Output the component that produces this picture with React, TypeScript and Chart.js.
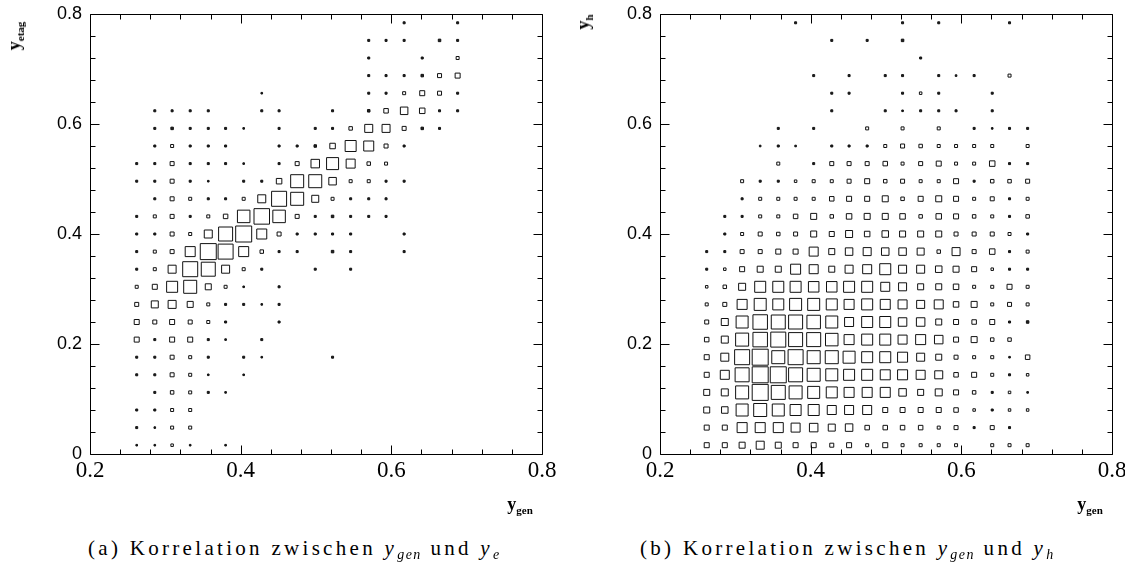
import React, { useEffect, useRef } from 'react';
import { Chart, registerables } from 'chart.js';

Chart.register(...registerables);

// Bin centres (x: y_gen, y: reconstructed y)
const xBinCenters = [0.262, 0.286, 0.309, 0.333, 0.357, 0.380, 0.404, 0.428, 0.451, 0.475, 0.499, 0.522, 0.546, 0.570, 0.593, 0.617, 0.641, 0.664, 0.688];
const yBinCenters = [0.016, 0.048, 0.080, 0.112, 0.144, 0.176, 0.208, 0.240, 0.272, 0.304, 0.336, 0.368, 0.400, 0.432, 0.464, 0.496, 0.528, 0.560, 0.592, 0.624, 0.656, 0.688, 0.720, 0.752, 0.784];
const yBinWidth = 0.032;
const fullBinContent = 17.6; // content that fills a whole bin

const xTickValues = [0.2, 0.4, 0.6, 0.8];
const yTickValues = [0, 0.2, 0.4, 0.6, 0.8];

// Rows: bottom (y bin 0) to top (y bin 24); columns: x bins 0..18
const contentEtag = [
  [1, 1, 2.5, 1, 0, 1, 0, 0, 0, 0, 0, 0, 0, 0, 0, 0, 0, 0, 0],
  [1.5, 1, 3, 3, 0, 0, 0, 0, 0, 0, 0, 0, 0, 0, 0, 0, 0, 0, 0],
  [1.5, 1.5, 3, 3, 0, 0, 0, 0, 0, 0, 0, 0, 0, 0, 0, 0, 0, 0, 0],
  [0, 1.5, 3.5, 3, 1.5, 1, 0, 0, 0, 0, 0, 0, 0, 0, 0, 0, 0, 0, 0],
  [1.5, 1.5, 4, 3, 1, 0, 1, 0, 0, 0, 0, 0, 0, 0, 0, 0, 0, 0, 0],
  [1.5, 1.5, 4, 3, 1.5, 0, 1.5, 1, 0, 0, 0, 1.5, 0, 0, 0, 0, 0, 0, 0],
  [5, 1.5, 5, 5, 1.5, 1, 0, 1.5, 0, 0, 0, 0, 0, 0, 0, 0, 0, 0, 0],
  [5, 4, 5, 4, 3, 1.5, 0, 0, 1.5, 0, 0, 0, 0, 0, 0, 0, 0, 0, 0],
  [4, 7, 8, 6, 3, 1.5, 1.5, 1, 1.5, 0, 0, 0, 0, 0, 0, 0, 0, 0, 0],
  [3, 5, 11, 13, 6, 3, 1, 0, 1.5, 0, 0, 0, 0, 0, 0, 0, 0, 0, 0],
  [1.5, 3, 8, 15, 14, 8, 3, 1.5, 0, 0, 1.5, 0, 1.5, 0, 0, 0, 0, 0, 0],
  [1.5, 3, 4, 10, 16, 15, 10, 3.5, 1.5, 1.5, 0, 2, 1.5, 0, 0, 1.5, 0, 0, 0],
  [1.5, 1.5, 4, 3, 8, 14, 16, 10, 4, 1.5, 1.5, 1.5, 1.5, 0, 0, 1.5, 0, 0, 0],
  [1.5, 3, 4, 1.5, 3, 4.5, 12.5, 15.5, 12.5, 4, 1.5, 2, 1.5, 1.5, 1.5, 0, 0, 0, 0],
  [0, 1.5, 4, 3, 1.5, 1.5, 3, 8, 15, 13, 7, 3, 1.5, 1.5, 1.5, 0, 0, 0, 0],
  [1.5, 1.5, 4, 1.5, 1, 0, 1.5, 1.5, 5.5, 13, 13, 7.5, 3, 3, 1.5, 1.5, 0, 0, 0],
  [1.5, 1.5, 4, 1.5, 1.5, 1.5, 1, 0, 1.5, 4, 8.5, 12, 9, 3.5, 3, 0, 0, 0, 0],
  [0, 1.5, 3, 1.5, 1.5, 1.5, 0, 0, 1.5, 1.5, 2, 5.5, 11, 10, 4, 1.5, 0, 0, 0],
  [0, 1.5, 2, 1.5, 1.5, 1.5, 1, 0, 1.5, 0, 1.5, 1.5, 3.5, 8, 8, 4, 2, 1.5, 0],
  [0, 1.5, 1.5, 1.5, 1.5, 0, 0, 1.5, 1.5, 0, 0, 1.5, 0, 2, 4.5, 7.5, 5.5, 1.5, 1.5],
  [0, 0, 0, 0, 0, 0, 0, 1, 0, 0, 0, 0, 0, 1.5, 1.5, 3, 5, 4, 1.5],
  [0, 0, 0, 0, 0, 0, 0, 0, 0, 0, 0, 0, 0, 1.5, 1.5, 1.5, 2, 4, 5],
  [0, 0, 0, 0, 0, 0, 0, 0, 0, 0, 0, 0, 0, 1.5, 0, 0, 1.5, 0, 3],
  [0, 0, 0, 0, 0, 0, 0, 0, 0, 0, 0, 0, 0, 1.5, 1.5, 1.5, 0, 2, 1.5],
  [0, 0, 0, 0, 0, 0, 0, 0, 0, 0, 0, 0, 0, 0, 0, 1.5, 0, 0, 1.5],
];

const contentH = [
  [5, 5, 6, 8, 6, 5, 5, 4, 5, 3, 5, 3, 3, 3, 3, 0, 3, 3, 3],
  [5, 5, 10, 10, 10, 9, 8.5, 7, 7.5, 4.5, 4.5, 4.5, 4.5, 3, 4, 1.5, 4, 1.5, 0],
  [6, 6.5, 12, 13, 12, 11, 11, 9, 9, 9, 5, 5, 5, 5, 4.5, 2.5, 1.5, 2.5, 2.5],
  [6, 7, 13, 16, 14, 13, 12, 11, 10, 10, 10, 7.5, 6, 7, 5, 3.5, 1.5, 2.5, 1],
  [5, 9, 14, 16, 16, 14, 13, 12, 11, 11, 10, 10, 9, 8, 4.5, 5, 3, 1.5, 2.5],
  [5, 8, 15, 16, 13, 15, 13, 13, 12, 11, 11, 10, 8, 6, 4, 3, 3, 1, 4.5],
  [4.5, 7, 13, 14.5, 15, 14, 14, 12.5, 10, 11, 11, 9, 10, 8.5, 5, 6, 3.5, 3.5, 0],
  [4, 7, 12, 14.5, 14, 14, 13.5, 12, 9, 11, 11, 8.5, 8.5, 6, 5, 4.5, 5, 1.5, 2],
  [3, 4, 10, 12, 11, 12, 12, 11, 10, 11, 10, 9, 8, 9, 5.5, 6, 3, 4, 3],
  [2.5, 3.5, 7, 11, 11, 11, 10.5, 10.5, 11, 11, 9, 8, 6, 6, 5.5, 3, 3, 5, 3],
  [1.5, 2.5, 5, 6, 6, 10, 9, 6, 8, 9, 11, 8, 8, 6.5, 6, 5, 2.5, 1.5, 1.5],
  [1.5, 1.5, 4, 4, 5, 5, 9, 6, 7.5, 8, 7.5, 7.5, 7, 3.5, 8, 4, 5.5, 1.5, 3],
  [0, 1.5, 3, 4, 3.5, 4, 6, 5, 7, 5.5, 6.5, 6, 6, 6, 4, 4, 4, 3, 1.5],
  [0, 1.5, 1.5, 3, 3, 4.5, 6, 3.5, 5.5, 6, 6, 5.5, 3.5, 5.5, 5, 3.5, 3, 1.5, 3.5],
  [0, 0, 1.5, 3, 3, 3, 3, 4.5, 5, 5, 6, 3.5, 5, 6, 5, 3, 4, 1.5, 3],
  [0, 0, 3, 1.5, 1.5, 2.5, 3, 3, 4, 5, 3.5, 4, 3, 3, 5, 1.5, 3.5, 3.5, 4],
  [0, 0, 0, 0, 3, 0, 1.5, 4, 4, 4, 4.5, 3, 4, 5, 3, 3, 5.5, 1.5, 1.5],
  [0, 0, 0, 1, 1.5, 1, 0, 1.5, 1.5, 1.5, 3, 4, 3.5, 3, 3, 3, 3, 0, 3],
  [0, 0, 0, 0, 1.5, 0, 1.5, 0, 0, 3, 0, 3, 0, 3, 0, 1.5, 1, 1.5, 1.5],
  [0, 0, 0, 0, 0, 0, 0, 1.5, 0, 0, 1.5, 1, 1.5, 1.5, 1.5, 0, 1.5, 0, 0],
  [0, 0, 0, 0, 0, 0, 0, 1.5, 1.5, 0, 0, 1.5, 2.5, 1.5, 0, 0, 1.5, 0, 0],
  [0, 0, 0, 0, 0, 0, 1.5, 0, 1.5, 0, 1.5, 1.5, 0, 1.5, 1, 1.5, 0, 3, 0],
  [0, 0, 0, 0, 0, 0, 0, 0, 0, 0, 0, 0, 1.5, 0, 0, 0, 0, 0, 0],
  [0, 0, 0, 0, 0, 0, 0, 1.5, 0, 1.5, 0, 2, 0, 0, 0, 0, 0, 0, 0],
  [0, 0, 0, 0, 0, 1.5, 0, 0, 0, 0, 0, 1.5, 0, 1.5, 0, 0, 0, 1.5, 0],
];

function toPoints(matrix: number[][]) {
  const pts: { x: number; y: number; v: number }[] = [];
  matrix.forEach((row, j) => {
    row.forEach((v, k) => {
      if (v > 0) pts.push({ x: xBinCenters[k], y: yBinCenters[j], v });
    });
  });
  return pts;
}

const fmt = (v: number) => (Math.abs(v) < 1e-9 ? '0' : Number(v).toFixed(1));

const framePlugin = {
  id: 'paw-frame',
  afterDatasetsDraw(chart: any) {
    const { ctx, chartArea: a, scales } = chart;
    const xs = scales.x;
    const ys = scales.y;
    ctx.save();
    ctx.strokeStyle = '#000';
    ctx.lineWidth = 1;
    const L = Math.round(a.left) + 0.5;
    const R = Math.round(a.right) + 0.5;
    const T = Math.round(a.top) + 0.5;
    const B = Math.round(a.bottom) + 0.5;
    ctx.beginPath();
    ctx.rect(L, T, R - L, B - T);
    for (let i = 0; i <= 15; i++) {
      const v = 0.2 + i * 0.04;
      const px = Math.round(xs.getPixelForValue(v)) + 0.5;
      const len = i % 5 === 0 ? 9 : 5;
      ctx.moveTo(px, B);
      ctx.lineTo(px, B - len);
      ctx.moveTo(px, T);
      ctx.lineTo(px, T + len);
    }
    for (let i = 0; i <= 20; i++) {
      const v = i * 0.04;
      const py = Math.round(ys.getPixelForValue(v)) + 0.5;
      const len = i % 5 === 0 ? 9 : 5;
      ctx.moveTo(L, py);
      ctx.lineTo(L + len, py);
      ctx.moveTo(R, py);
      ctx.lineTo(R - len, py);
    }
    ctx.stroke();
    ctx.restore();
  },
};

function Panel({ matrix, left }: { matrix: number[][]; left: number }) {
  const ref = useRef<HTMLCanvasElement | null>(null);
  useEffect(() => {
    if (!ref.current) return;
    const chart = new Chart(ref.current, {
      type: 'scatter',
      data: {
        datasets: [
          {
            data: toPoints(matrix) as any,
            pointStyle: 'rect',
            borderColor: '#111',
            borderWidth: 1,
            pointRadius: (c: any) => {
              const v = c.raw ? c.raw.v : 0;
              const ys = c.chart.scales.y;
              const binPx = Math.abs(ys.getPixelForValue(yBinWidth) - ys.getPixelForValue(0));
              let side = (v / fullBinContent) * binPx;
              if (v <= 2) side = side + 0.5;
              side = Math.max(side, 1.6);
              return side / Math.SQRT2;
            },
            backgroundColor: (c: any) => (c.raw && c.raw.v <= 2 ? '#222' : 'rgba(0,0,0,0)'),
          } as any,
        ],
      },
      options: {
        responsive: false,
        maintainAspectRatio: false,
        animation: false,
        events: [],
        layout: { padding: { left: 0, right: 18, top: 14, bottom: 0 } },
        plugins: { legend: { display: false }, tooltip: { enabled: false } },
        scales: {
          x: {
            type: 'linear',
            min: 0.2,
            max: 0.8,
            grid: { display: false, drawTicks: false },
            border: { display: false },
            afterBuildTicks: (s: any) => {
              s.ticks = xTickValues.map((value) => ({ value }));
            },
            afterFit: (s: any) => {
              s.height = 46;
              s.paddingLeft = 0;
              s.paddingRight = 0;
            },
            ticks: {
              callback: (v: any) => fmt(Number(v)),
              font: { family: '"Liberation Serif", serif', size: 23 },
              color: '#000',
              padding: 3,
              maxRotation: 0,
              autoSkip: false,
            },
          },
          y: {
            type: 'linear',
            min: 0,
            max: 0.8,
            grid: { display: false, drawTicks: false },
            border: { display: false },
            afterBuildTicks: (s: any) => {
              s.ticks = yTickValues.map((value) => ({ value }));
            },
            afterFit: (s: any) => {
              s.width = 90;
              s.paddingTop = 0;
              s.paddingBottom = 0;
            },
            ticks: {
              callback: (v: any) => fmt(Number(v)),
              font: { family: '"Liberation Sans", Arial, sans-serif', size: 18 },
              color: '#000',
              padding: 8,
              autoSkip: false,
            },
          },
        },
      } as any,
      plugins: [framePlugin],
    });
    return () => chart.destroy();
  }, [matrix]);
  return (
    <canvas
      ref={ref}
      width={560}
      height={500}
      style={{ position: 'absolute', left, top: 0, width: 560, height: 500 }}
    />
  );
}

const titleFont = '"Liberation Serif", "DejaVu Serif", serif';

function AxisTitle({ main, sub, x, y, rotate }: { main: string; sub: string; x: number; y: number; rotate?: boolean }) {
  return (
    <div
      style={{
        position: 'absolute',
        left: x,
        top: y,
        transform: `translate(-50%, -50%)${rotate ? ' rotate(-90deg)' : ''}`,
        whiteSpace: 'nowrap',
        fontFamily: titleFont,
        fontWeight: 'bold',
        fontSize: 18,
        lineHeight: '20px',
        color: '#000',
      }}
    >
      {main}
      <span style={{ fontSize: 11, position: 'relative', top: 4 }}>{sub}</span>
    </div>
  );
}

function Caption({ label, sub, x }: { label: string; sub: string; x: number }) {
  return (
    <div
      style={{
        position: 'absolute',
        left: x,
        top: 535,
        whiteSpace: 'nowrap',
        fontFamily: titleFont,
        fontSize: 21,
        letterSpacing: 3.3,
        lineHeight: '26px',
        color: '#000',
      }}
    >
      {label} Korrelation zwischen <i>y</i>
      <i style={{ fontSize: 14, position: 'relative', top: 4, letterSpacing: 1.5 }}>gen</i> und <i>y</i>
      <i style={{ fontSize: 14, position: 'relative', top: 4 }}>{sub}</i>
    </div>
  );
}

export default function App() {
  return (
    <div
      style={{
        position: 'fixed',
        left: 0,
        top: 0,
        width: 1125,
        height: 570,
        background: '#fff',
        overflow: 'hidden',
      }}
    >
      <Panel matrix={contentEtag} left={0} />
      <Panel matrix={contentH} left={570} />
      <AxisTitle main="y" sub="etag" x={15} y={36} rotate />
      <AxisTitle main="y" sub="h" x={584} y={22} rotate />
      <AxisTitle main="y" sub="gen" x={520} y={505} />
      <AxisTitle main="y" sub="gen" x={1090} y={505} />
      <Caption label="(a)" sub="e" x={88} />
      <Caption label="(b)" sub="h" x={640} />
    </div>
  );
}
